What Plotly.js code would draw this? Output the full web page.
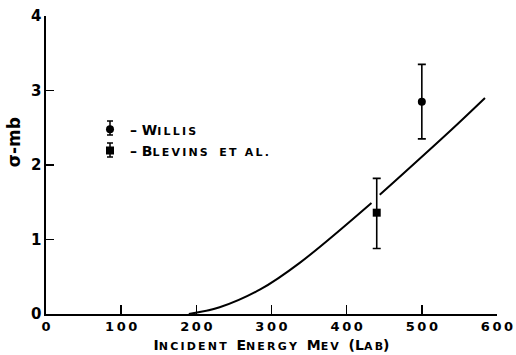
<!DOCTYPE html>
<html>
<head>
<meta charset="utf-8">
<script src="https://cdn.plot.ly/plotly-3.0.1.min.js"></script>
<style>html,body{margin:0;padding:0;background:#fff;}#chart{width:516px;height:355px;}</style>
</head>
<body>
<div id="chart"></div>
<script>
// Theory curve
const curveX = [190, 231, 285, 338, 433, 438, 444, 539, 584];
const curveY = [0, 0.09, 0.33, 0.69, 1.49, null, 1.60, 2.47, 2.90];
// Willis
const willisX = [500];
const willisY = [2.85];
const willisErr = [0.5];
// Blevins et al.
const blevinsX = [440];
const blevinsY = [1.36];
const blevinsErrPlus = [0.46];
const blevinsErrMinus = [0.48];

const xTicks = [0, 100, 200, 300, 400, 500, 600];
const yTicks = [0, 1, 2, 3, 4];

const FONT = 'DejaVu Sans, sans-serif';
const sp = s => s.split('').join('\u2009');
const sc = (s, fs) => '<span style="font-size:' + fs + 'px">' + s + '</span>';

const traces = [
  {x: curveX, y: curveY, mode: 'lines', line: {color: '#000', width: 2, shape: 'spline', smoothing: 1},
   connectgaps: false, showlegend: false, hoverinfo: 'skip'},
  {x: willisX, y: willisY, mode: 'markers', name: '– W' + sc(sp('ILLIS'), 11),
   marker: {symbol: 'circle', size: 8, color: '#000'},
   error_y: {type: 'data', array: willisErr, visible: true, color: '#000', thickness: 1.6, width: 4}},
  {x: blevinsX, y: blevinsY, mode: 'markers', name: '– B' + sc(sp('LEVINS') + '&nbsp;&nbsp;&nbsp;' + sp('ET AL.'), 11),
   marker: {symbol: 'square', size: 8, color: '#000'},
   error_y: {type: 'data', symmetric: false, array: blevinsErrPlus, arrayminus: blevinsErrMinus,
             visible: true, color: '#000', thickness: 1.6, width: 4}}
];

// legend glyph error bars (decoration next to legend symbols)
const gx = (110 - 46) / 451, capw = 3 / 451, halfh = 7 / 298;
const glyphYs = [(314 - 128) / 298, (314 - 150) / 298];
const shapes = [];
glyphYs.forEach(gy => {
  const ln = {type: 'line', xref: 'paper', yref: 'paper', line: {color: '#000', width: 1.5}};
  shapes.push(Object.assign({}, ln, {x0: gx, x1: gx, y0: gy - halfh, y1: gy + halfh}));
  shapes.push(Object.assign({}, ln, {x0: gx - capw, x1: gx + capw, y0: gy - halfh, y1: gy - halfh}));
  shapes.push(Object.assign({}, ln, {x0: gx - capw, x1: gx + capw, y0: gy + halfh, y1: gy + halfh}));
});

const layout = {
  width: 516, height: 355,
  margin: {l: 46, r: 19, t: 16, b: 41, pad: 0},
  paper_bgcolor: '#fff', plot_bgcolor: '#fff',
  font: {family: FONT, color: '#000', size: 13},
  showlegend: true,
  legend: {x: (90 - 46) / 451, y: 0.672, xanchor: 'left', yanchor: 'top', bgcolor: 'rgba(0,0,0,0)',
           font: {family: FONT, size: 14, weight: 'bold'}, itemwidth: 30, tracegroupgap: 0},
  shapes: shapes,
  xaxis: {
    range: [0, 600], tickvals: xTicks, ticktext: xTicks.map(v => sp(String(v))),
    showline: true, linecolor: '#000', linewidth: 1.6, mirror: false,
    ticks: 'inside', ticklen: 9, tickwidth: 1.5, tickcolor: '#000',
    showgrid: false, zeroline: false,
    tickfont: {family: FONT, size: 13, weight: 'bold'},
    title: {text: 'I' + sc(sp('NCIDENT'), 11) + '&nbsp;&nbsp;E' + sc(sp('NERGY'), 11) + '&nbsp;&nbsp;M' + sc(sp('EV'), 11) + '&nbsp;&nbsp;(L' + sc(sp('AB'), 11) + ')',
            font: {family: FONT, size: 14, weight: 'bold'}, standoff: 7}
  },
  yaxis: {
    range: [0, 4], tickvals: yTicks, ticktext: yTicks.map(String),
    showline: true, linecolor: '#000', linewidth: 1.6,
    ticks: 'inside', ticklen: 8, tickwidth: 1.5, tickcolor: '#000',
    showgrid: false, zeroline: false,
    tickfont: {family: FONT, size: 15, weight: 'bold'}
  },
  annotations: [
    {text: 'σ-mb', xref: 'paper', yref: 'paper', x: -0.072, y: 0.575, xanchor: 'center', yanchor: 'middle',
     textangle: -90, showarrow: false, font: {family: FONT, size: 17, weight: 'bold'}}
  ]
};

Plotly.newPlot('chart', traces, layout, {displayModeBar: false, staticPlot: true});
</script>
</body>
</html>
